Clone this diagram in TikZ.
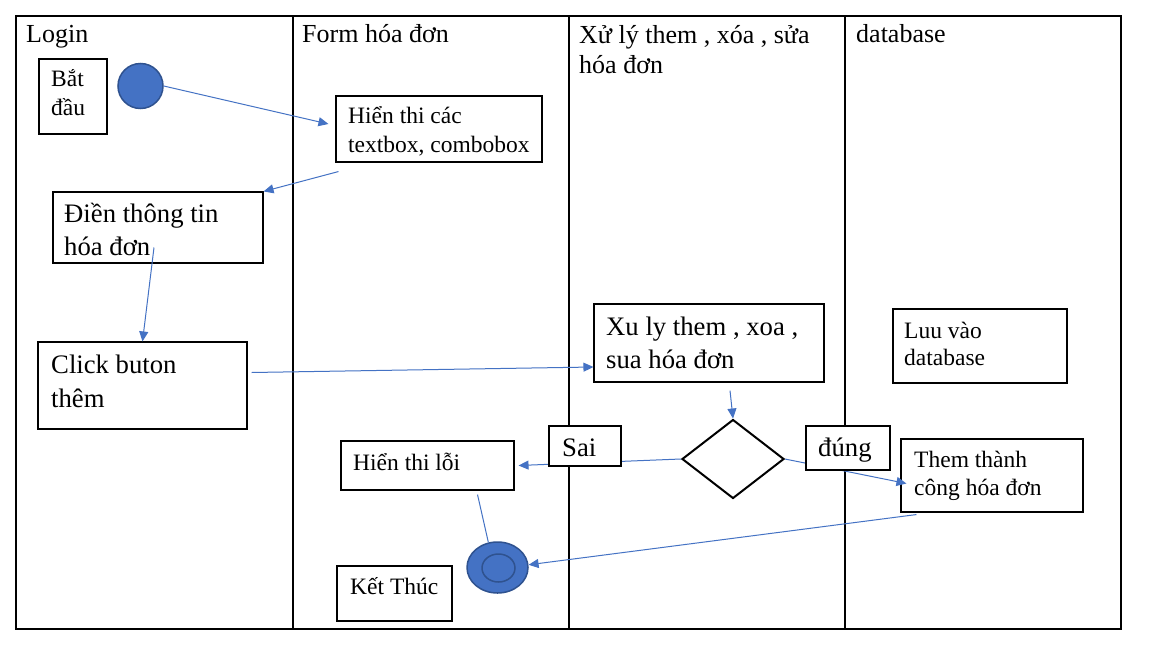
\documentclass[tikz,border=0pt]{standalone}
\usepackage{fontspec}
\setmainfont{Liberation Serif}
\usetikzlibrary{shapes.geometric,arrows.meta}

\definecolor{wordblue}{HTML}{4472C4}
\definecolor{darkblue}{HTML}{2F528F}

\tikzset{
    lane/.style={draw=black, line width=1.2pt},
    box/.style={draw=black, line width=1.1pt, fill=white, inner sep=0pt},
    head/.style={anchor=base west, align=left, inner sep=0pt, font=\fontsize{26}{30}\selectfont},
    bigtext/.style={anchor=base west, align=left, inner sep=0pt, font=\fontsize{26.7}{33}\selectfont},
    smalltext/.style={anchor=base west, align=left, inner sep=0pt, font=\fontsize{23.5}{28.5}\selectfont},
    flow/.style={draw=wordblue, line width=1pt, -{Triangle[length=10pt,width=9pt]}},
    plainflow/.style={draw=wordblue, line width=1pt}
}

\begin{document}
\begin{tikzpicture}[x=1pt, y=-1pt]
        \useasboundingbox[fill=white] (0,0) rectangle (1158,664);

        % Lanes
        \draw[lane] (16,16) rectangle (1121,629);
        \draw[lane] (293,16) -- (293,629);
        \draw[lane] (569,16) -- (569,629);
        \draw[lane] (845,16) -- (845,629);

        % Lane titles (a text of two lines is placed by its last line)
        \node[head] (login) at (26,42) {Login};
        \node[head] (form) at (302,42) {Form hóa đơn};
        \node[head] (xuly-head) at (579,73) {Xử lý them , xóa , sửa\\hóa đơn};
        \node[head] (database) at (856,42) {database};

        % Boxes
        \node[box, minimum width=68, minimum height=75] (batdau) at (73,96.5) {};
        \node[smalltext] (batdau-text) at (51,115) {Bắt\\đầu};
        \node[circle, fill=wordblue, draw=darkblue, line width=1.5pt, minimum size=45] (start) at (140.5,86) {};

        \node[box, minimum width=206, minimum height=66] (hienthi) at (439,129) {};
        \node[smalltext] (hienthi-text) at (348,152) {Hiển thi các\\textbox, combobox};

        \node[box, minimum width=210, minimum height=71] (dien) at (158,227.5) {};
        \node[bigtext] (dien-text) at (64,255) {Điền thông tin\\hóa đơn};

        \node[box, minimum width=209, minimum height=87] (click) at (142.5,385.5) {};
        \node[bigtext, font=\fontsize{26.7}{34}\selectfont] (click-text) at (51,407) {Click buton\\thêm};

        \node[box, minimum width=230, minimum height=78] (xuly) at (709,343) {};
        \node[bigtext] (xuly-text) at (606,368) {Xu ly them , xoa ,\\sua hóa đơn};

        \node[box, minimum width=174, minimum height=74] (luu) at (980,346) {};
        \node[smalltext, font=\fontsize{23.5}{27}\selectfont] (luu-text) at (904,365) {Luu vào\\database};

        \node[diamond, draw=black, line width=2pt, inner sep=0pt, aspect=1.29,
              minimum width=102, minimum height=79] (quyetdinh) at (733,459) {};

        \node[box, minimum width=182, minimum height=73] (them) at (992,475.5) {};
        \node[smalltext] (them-text) at (914,495.5) {Them thành\\công hóa đơn};

        \node[box, minimum width=173, minimum height=49] (loi) at (427.5,465.5) {};
        \node[smalltext] (loi-text) at (353,470) {Hiển thi lỗi};

        \node[ellipse, fill=wordblue, draw=darkblue, line width=1.5pt, inner sep=0pt,
              minimum width=61, minimum height=51] (stop) at (497.5,567.5) {};
        \node[ellipse, draw=darkblue, line width=1.5pt, inner sep=0pt,
              minimum width=33, minimum height=28] (stop-inner) at (498.5,568) {};

        \node[box, minimum width=115, minimum height=55] (ketthuc) at (394.5,593.5) {};
        \node[smalltext] (ketthuc-text) at (350,594) {Kết Thúc};

        % Links between the boxes
        \draw[flow] (start.east) -- ([xshift=-7pt,yshift=5pt]hienthi.west);
        \draw[flow] ([xshift=3pt,yshift=-9pt]hienthi.south west) -- (dien.north east);
        \draw[flow] ([xshift=-4pt,yshift=-20pt]dien.center) -- (click.north);
        \draw[flow] ([xshift=4pt,yshift=13pt]click.east) -- ([yshift=-24pt]xuly.west);
        \draw[flow] ([xshift=21pt,yshift=-8pt]xuly.south) -- (quyetdinh.north);
        \draw[flow] (quyetdinh.west) -- ([xshift=4pt]loi.east);
        \draw[flow] (quyetdinh.east) -- ([xshift=6pt,yshift=-8pt]them.west);
        \draw[flow] ([xshift=16pt,yshift=-2pt]them.south west) -- (stop.5);
        \draw[plainflow] ([xshift=50pt,yshift=-4pt]loi.south) -- (stop.110);

        % Guard labels
        \node[box, minimum width=72, minimum height=40] (sai) at (585,446) {};
        \node[bigtext] (sai-text) at (562,456) {Sai};
        \node[box, minimum width=84, minimum height=44] (dung) at (848,448) {};
        \node[bigtext] (dung-text) at (818,456) {đúng};

\end{tikzpicture}
\end{document}
